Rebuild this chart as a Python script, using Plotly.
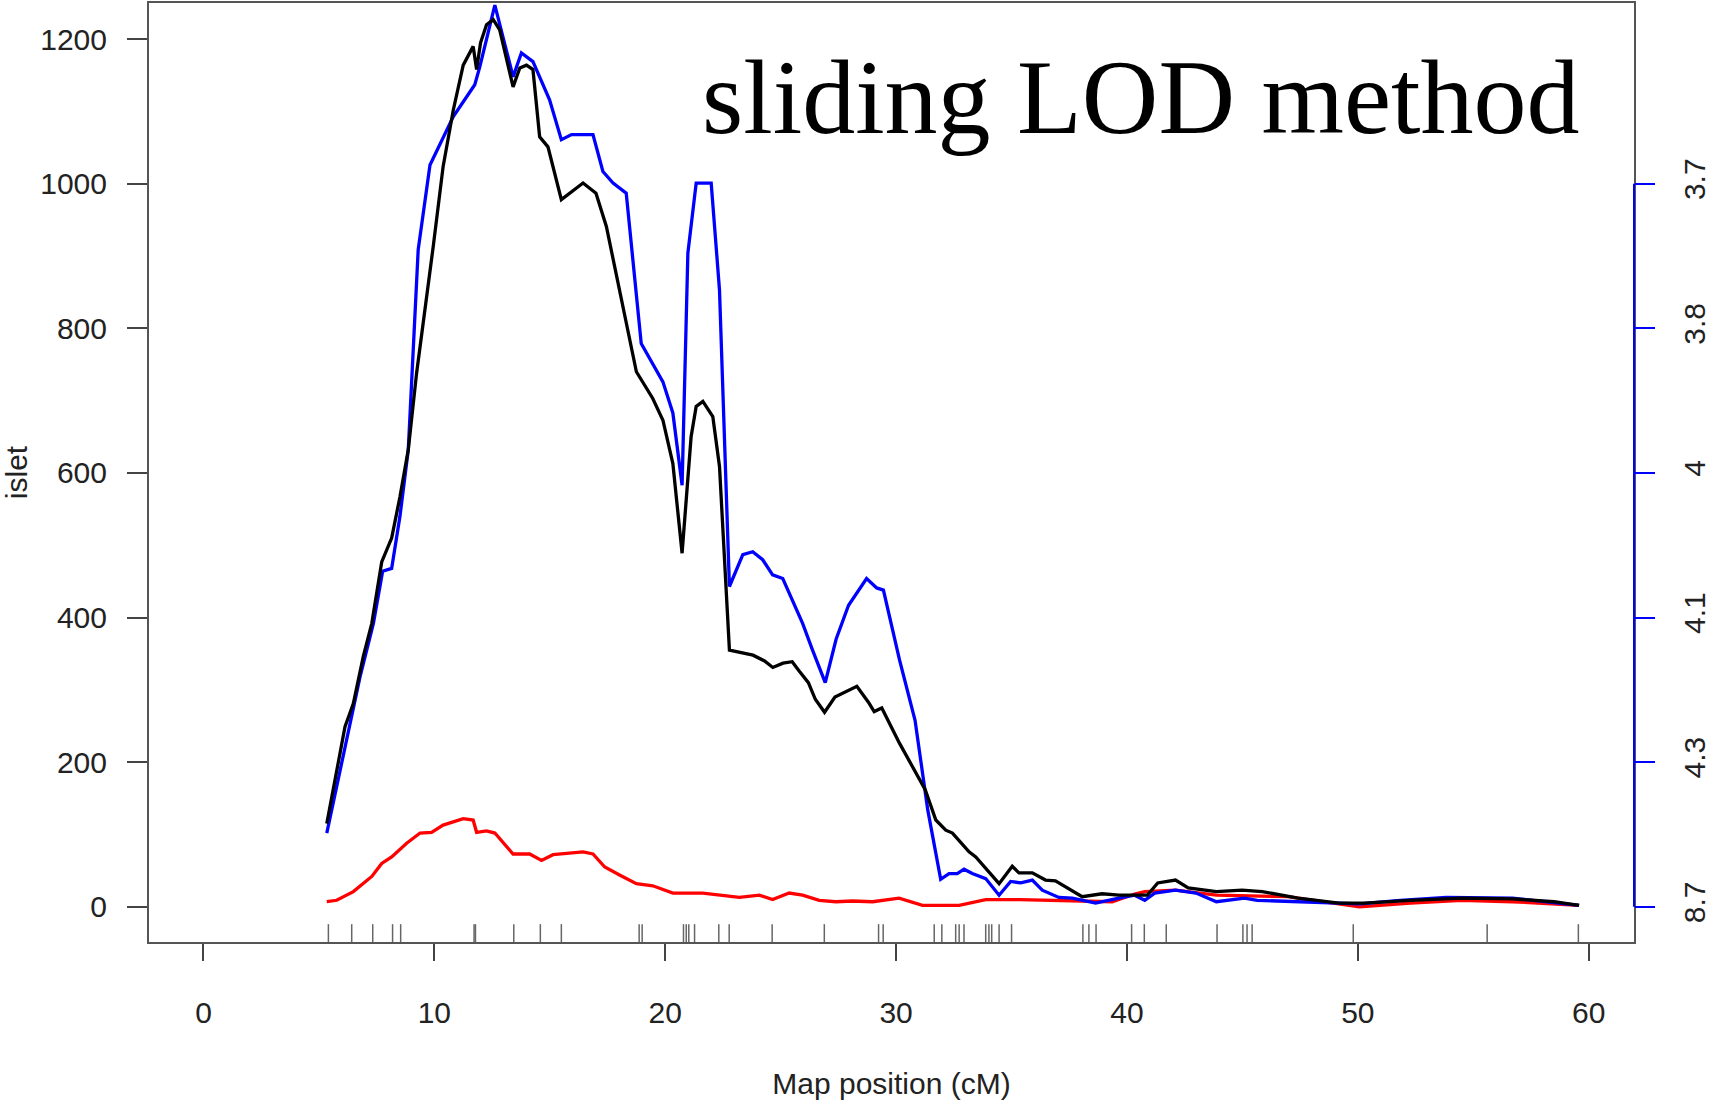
import plotly.graph_objects as go

# ---- data ----
pos_islet = [5.34, 6.13, 6.49, 6.92, 7.29, 7.72, 8.15, 8.51, 8.87, 9.23, 9.95, 10.38, 10.82, 11.25,
             11.68, 11.83, 12.0, 12.26, 12.55, 12.83, 13.41, 13.70, 13.99, 14.27, 14.56, 14.92, 15.50,
             16.44, 17.0, 17.45, 18.75, 19.46, 19.9, 20.33, 20.73, 21.12, 21.34, 21.63, 22.06, 22.35,
             22.78, 23.3, 23.8, 24.3, 24.66, 25.1, 25.5, 25.8, 26.2, 26.5, 26.9, 27.35, 27.94, 28.3,
             28.8, 29.05, 29.38, 30.15, 31.26, 31.72, 32.15, 32.44, 33.16, 33.45, 34.46, 35.03, 35.32,
             35.9, 36.47, 36.9, 38.06, 38.92, 39.65, 40.37, 40.88, 41.33, 42.1, 42.65, 43.87, 44.98,
             45.86, 47.41, 49.18, 50.29, 52.28, 54.49, 56.7, 58.5, 59.58]
islet = [115, 249, 281, 346, 392, 477, 510, 567, 632, 738, 913, 1024, 1102, 1164,
         1190, 1158, 1195, 1220, 1227, 1213, 1134, 1160, 1164, 1158, 1065, 1051, 978,
         1001, 987, 941, 740, 703, 673, 613, 489, 650, 692, 699, 678, 609,
         355, 352, 348, 340, 331, 337, 339, 326, 310, 287, 269, 290, 300, 305,
         283, 270, 275, 226, 162, 120, 106, 102, 76, 69, 32, 56, 47,
         47, 37, 36, 14, 18, 16, 16, 16, 33, 37, 26, 21, 23,
         21, 12, 5, 5, 9, 12, 11, 7, 2]

pos_blue = [5.34, 6.27, 6.78, 7.36, 7.76, 8.15, 8.51, 8.87, 9.30, 9.81, 10.82, 11.75, 11.97, 12.62,
            13.41, 13.77, 14.27, 14.99, 15.50, 15.94, 16.87, 17.30, 17.74, 18.31, 18.96, 19.9, 20.33,
            20.73, 20.98, 21.34, 21.99, 22.35, 22.78, 23.36, 23.79, 24.22, 24.65, 25.09, 25.95, 26.38,
            26.93, 27.4, 27.94, 28.72, 29.16, 29.45, 30.15, 30.82, 31.37, 31.93, 32.29, 32.65, 32.94,
            33.3, 33.88, 34.46, 34.96, 35.4, 35.9, 36.33, 37.05, 37.63, 38.64, 39.65, 40.33, 40.77,
            41.2, 42.1, 42.99, 43.87, 45.09, 45.64, 47.85, 49.18, 50.07, 51.84, 53.83, 56.7, 58.92, 59.58]
blue_vals = [102, 245, 318, 392, 464, 468, 540, 632, 909, 1026, 1093, 1137, 1162, 1247,
             1148, 1181, 1169, 1116, 1061, 1068, 1068, 1017, 1001, 987, 779, 726, 683,
             583, 904, 1001, 1001, 853, 443, 487, 491, 480, 459, 454, 392, 355,
             310, 370, 417, 454, 441, 438, 341, 258, 134, 38, 46, 46, 52,
             46, 39, 16, 35, 33, 37, 23, 13, 12, 5, 12, 16, 9,
             19, 23, 19, 7, 12, 9, 7, 5, 4, 9, 13, 12, 5, 2]

pos_red = [5.34, 5.77, 6.49, 7.29, 7.72, 8.15, 8.8, 9.38, 9.88, 10.38, 11.25, 11.68, 11.83, 12.26,
           12.62, 13.41, 14.13, 14.64, 15.14, 16.44, 16.87, 17.38, 18.02, 18.75, 19.46, 20.33, 21.63,
           22.35, 23.21, 24.08, 24.65, 25.37, 25.95, 26.67, 27.39, 28.11, 28.98, 30.13, 31.14, 32.73,
           33.88, 35.32, 36.76, 38.2, 39.36, 40.37, 40.77, 42.1, 43.87, 46.97, 50.07, 52.28, 54.49,
           56.7, 59.58]
red_vals = [7, 9, 21, 42, 60, 69, 88, 102, 103, 113, 122, 120, 103, 105,
            102, 73, 73, 64, 72, 76, 73, 55, 44, 32, 29, 19, 19,
            16, 13, 16, 10, 19, 16, 9, 7, 8, 7, 12, 2, 2,
            10, 10, 9, 7, 7, 18, 21, 23, 16, 14, 0, 5, 9,
            7, 2]

markers = [5.41, 6.42, 7.33, 8.19, 8.54, 11.72, 11.78, 13.44, 14.59, 15.5, 18.87, 19.0, 20.79, 20.91,
           21.02, 21.27, 22.32, 22.77, 24.63, 26.89, 29.24, 29.44, 31.65, 31.98, 32.58, 32.73, 32.94,
           33.88, 34.02, 34.14, 34.46, 35.0, 38.09, 38.35, 38.66, 40.2, 40.75, 41.7, 43.9, 45.02,
           45.2, 45.42, 49.8, 55.6, 59.55]

x_ticks = [0, 10, 20, 30, 40, 50, 60]
y_ticks = [0, 200, 400, 600, 800, 1000, 1200]
right_tickvals = [1000, 800, 600, 400, 200, 0]
right_ticktext = ["3.7", "3.8", "4", "4.1", "4.3", "8.7"]

# ---- figure ----
fig = go.Figure()
fig.add_trace(go.Scatter(x=pos_red, y=red_vals, mode="lines",
                         line=dict(color="#ff0000", width=3.3), showlegend=False, name="red"))
fig.add_trace(go.Scatter(x=pos_blue, y=blue_vals, mode="lines",
                         line=dict(color="#0000ff", width=3.3), showlegend=False, name="blue"))
fig.add_trace(go.Scatter(x=pos_islet, y=islet, mode="lines",
                         line=dict(color="#000000", width=3.3), showlegend=False, name="islet"))
# invisible trace so the right axis is rendered
fig.add_trace(go.Scatter(x=[pos_islet[0]], y=[islet[0]], yaxis="y2", mode="markers",
                         marker=dict(opacity=0), showlegend=False, hoverinfo="skip"))

shapes = []
for m in markers:
    shapes.append(dict(type="line", xref="x", yref="y domain", x0=m, x1=m, y0=0, y1=0.019,
                       line=dict(color="#666666", width=1.5)))
# blue right axis line between its first and last tick
shapes.append(dict(type="line", xref="paper", yref="y", x0=1, x1=1,
                   y0=min(right_tickvals), y1=max(right_tickvals),
                   line=dict(color="#0000ff", width=2)))

tick_font = dict(family="Liberation Sans, Arial, sans-serif", size=30, color="#222222")

fig.update_layout(
    width=1713, height=1100,
    margin=dict(l=149, r=79, t=3, b=158, autoexpand=False),
    paper_bgcolor="white", plot_bgcolor="white",
    shapes=shapes,
    xaxis=dict(range=[-2.36, 61.96], tickvals=x_ticks, ticks="outside", ticklen=17, tickwidth=2,
               tickcolor="#444444", showline=True, mirror=True, linecolor="#555555", linewidth=2,
               showgrid=False, zeroline=False, tickfont=tick_font, ticklabelstandoff=26,
               title=dict(text="Map position (cM)", font=tick_font, standoff=48)),
    yaxis=dict(range=[-48.7, 1250], tickvals=y_ticks, ticks="outside", ticklen=20, tickwidth=2,
               tickcolor="#444444", showline=True, mirror=True, linecolor="#555555", linewidth=2,
               showgrid=False, zeroline=False, tickfont=tick_font, ticklabelstandoff=14,
               title=dict(text="islet", font=tick_font, standoff=8)),
    yaxis2=dict(range=[-48.7, 1250], overlaying="y", side="right", tickvals=right_tickvals,
                ticktext=right_ticktext, ticks="outside", ticklen=20, tickwidth=2,
                tickcolor="#0000ff", showline=False, showgrid=False, zeroline=False,
                tickangle=-90, tickfont=tick_font, ticklabelstandoff=14),
    annotations=[dict(text="sliding LOD method", xref="paper", yref="paper",
                      x=(1581 - 149) / (1713 - 149 - 79), y=(942 - 97) / (942 - 3),
                      xanchor="right", yanchor="middle", showarrow=False,
                      font=dict(family="Liberation Serif, Times New Roman, serif", size=106,
                                color="#000000"))],
)

fig.write_html("out.html")
